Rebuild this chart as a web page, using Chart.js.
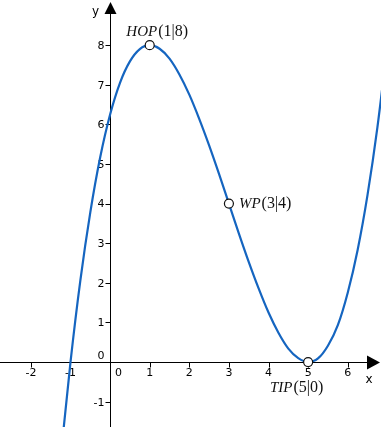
<!DOCTYPE html>
<html>
<head>
<meta charset="utf-8">
<script src="https://cdn.jsdelivr.net/npm/chart.js@4"></script>
<style>
  html, body { margin: 0; padding: 0; background: #fff; }
  #wrap { width: 381px; height: 427px; }
</style>
</head>
<body>
<div id="wrap"><canvas id="chart" width="381" height="427"></canvas></div>
<script>
// curve samples
const xValues = [-1.25, -1, -0.75, -0.5, -0.25, 0, 0.25, 0.5, 0.75, 1, 1.25, 1.5, 1.75, 2, 2.25, 2.5, 2.75, 3,
  3.25, 3.5, 3.75, 4, 4.25, 4.5, 4.75, 5, 5.25, 5.5, 5.75, 6, 6.25, 6.5, 6.75, 7];
const yValues = [-2.44, 0, 2.07, 3.78, 5.17, 6.25, 7.05, 7.59, 7.9, 8, 7.91, 7.66, 7.26, 6.75, 6.14, 5.47, 4.75, 4,
  3.25, 2.53, 1.86, 1.25, 0.74, 0.34, 0.1, 0, 0.09, 0.41, 0.93, 1.75, 2.83, 4.22, 5.93, 8];

// marked points
const pointNames = ["HOP", "WP", "TIP"];
const pointX = [1, 3, 5];
const pointY = [8, 4, 0];

// axis ticks
const xTicks = [-2, -1, 0, 1, 2, 3, 4, 5, 6];
const yTicks = [-1, 0, 1, 2, 3, 4, 5, 6, 7, 8];

const CURVE = "#1565c0";
const TICK_FONT = "11px 'DejaVu Sans', Verdana, sans-serif";
const NAME_FONT = "italic 15px 'Liberation Serif', 'DejaVu Serif', serif";
const COORD_FONT = "16px 'Liberation Serif', 'DejaVu Serif', serif";

const axesPlugin = {
  id: "axes",
  beforeDatasetsDraw(chart) {
    const { ctx, scales: { x, y }, width, height } = chart;
    const ox = Math.round(x.getPixelForValue(0)) + 0.5;
    const oy = Math.round(y.getPixelForValue(0)) + 0.5;
    ctx.save();
    ctx.strokeStyle = "#000";
    ctx.fillStyle = "#000";
    ctx.lineWidth = 1;

    // axis lines
    ctx.beginPath();
    ctx.moveTo(0, oy); ctx.lineTo(width - 8, oy);
    ctx.moveTo(ox, height); ctx.lineTo(ox, 8);
    ctx.stroke();

    // arrows
    ctx.beginPath();
    ctx.moveTo(width - 1, oy); ctx.lineTo(width - 14, oy - 7); ctx.lineTo(width - 14, oy + 7); ctx.closePath();
    ctx.fill();
    ctx.beginPath();
    ctx.moveTo(ox, 2); ctx.lineTo(ox - 6, 14); ctx.lineTo(ox + 6, 14); ctx.closePath();
    ctx.fill();

    // tick marks
    ctx.beginPath();
    xTicks.forEach((v) => {
      if (v === 0) return;
      const px = Math.round(x.getPixelForValue(v)) + 0.5;
      ctx.moveTo(px, oy); ctx.lineTo(px, oy + 5);
    });
    yTicks.forEach((v) => {
      if (v === 0) return;
      const py = Math.round(y.getPixelForValue(v)) + 0.5;
      ctx.moveTo(ox, py); ctx.lineTo(ox - 5, py);
    });
    ctx.stroke();

    // tick labels
    ctx.font = TICK_FONT;
    ctx.textBaseline = "middle";
    ctx.textAlign = "center";
    xTicks.forEach((v) => {
      const px = v === 0 ? ox + 8 : x.getPixelForValue(v);
      ctx.fillText(String(v), px, oy + 11);
    });
    ctx.textAlign = "right";
    yTicks.forEach((v) => {
      const py = v === 0 ? oy - 6 : y.getPixelForValue(v) + 1;
      ctx.fillText(String(v), ox - 6, py);
    });

    // axis names
    ctx.font = "12px 'DejaVu Sans', Verdana, sans-serif";
    ctx.textAlign = "center";
    ctx.fillText("y", ox - 15, 12);
    ctx.fillText("x", width - 12, oy + 17);
    ctx.restore();
  },
  afterDatasetsDraw(chart) {
    const { ctx, scales: { x, y } } = chart;
    const offsets = [[7, -13, "center"], [10, 0, "left"], [-12, 26, "center"]];
    ctx.save();
    ctx.fillStyle = "#111";
    ctx.textBaseline = "middle";
    pointNames.forEach((name, i) => {
      const coords = `(${pointX[i]}|${pointY[i]})`;
      ctx.font = NAME_FONT;
      const w1 = ctx.measureText(name).width;
      ctx.font = COORD_FONT;
      const w2 = ctx.measureText(coords).width;
      const [dx, dy, align] = offsets[i];
      let left = x.getPixelForValue(pointX[i]) + dx;
      if (align === "center") left -= (w1 + w2) / 2;
      const py = y.getPixelForValue(pointY[i]) + dy;
      ctx.textAlign = "left";
      ctx.font = NAME_FONT;
      ctx.fillText(name, left, py);
      ctx.font = COORD_FONT;
      ctx.fillText(coords, left + w1 + 1, py);
    });
    ctx.restore();
  },
};

new Chart(document.getElementById("chart"), {
  type: "line",
  data: {
    datasets: [
      {
        label: "points",
        data: pointX.map((v, i) => ({ x: v, y: pointY[i] })),
        showLine: false,
        pointRadius: 4.5,
        pointBackgroundColor: "#fff",
        pointBorderColor: "#111",
        pointBorderWidth: 1.2,
        order: 0,
      },
      {
        label: "f",
        data: xValues.map((v, i) => ({ x: v, y: yValues[i] })),
        borderColor: CURVE,
        borderWidth: 2.2,
        pointRadius: 0,
        cubicInterpolationMode: "monotone",
        fill: false,
        order: 1,
      },
    ],
  },
  options: {
    responsive: false,
    animation: false,
    events: [],
    layout: { padding: 0, autoPadding: false },
    plugins: { legend: { display: false }, tooltip: { enabled: false } },
    scales: {
      x: { type: "linear", min: -2.78, max: 6.84, display: false },
      y: { type: "linear", min: -1.64, max: 9.14, display: false },
    },
  },
  plugins: [axesPlugin],
});
</script>
</body>
</html>
